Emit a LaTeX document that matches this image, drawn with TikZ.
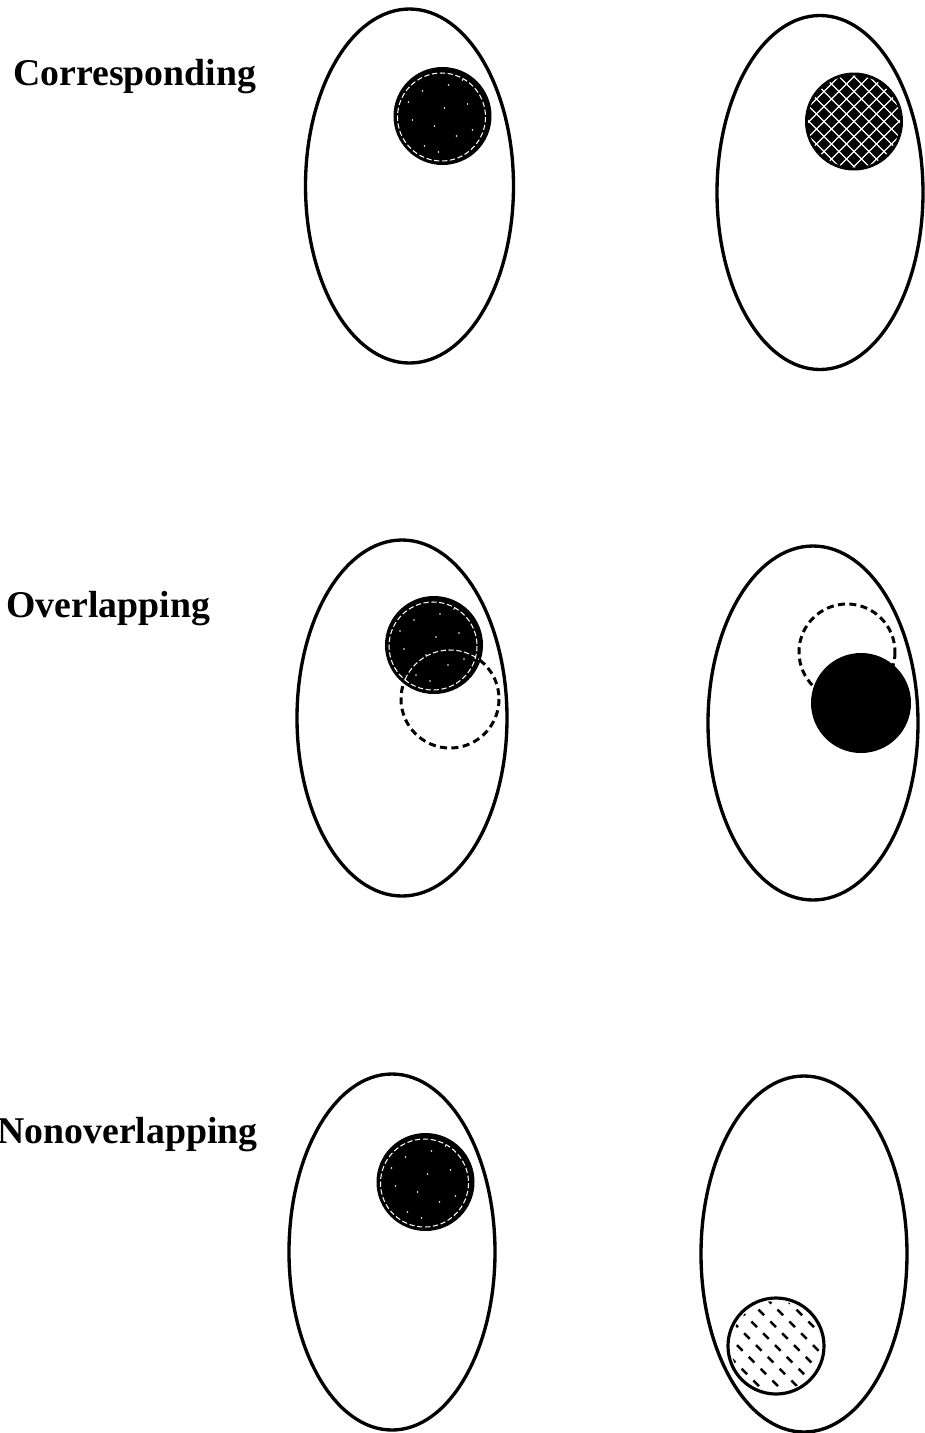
\documentclass[tikz,border=0pt]{standalone}
\usepackage{fontspec}
\setmainfont{Liberation Serif}
\tikzset{oval/.style={draw,line width=1.9pt},
 lbl/.style={anchor=base west,inner sep=0pt,font=\fontsize{21.5}{25}\selectfont\bfseries},
 ghost/.style={draw,line width=1.7pt,dash pattern=on 4pt off 2.5pt},
 speck/.style={draw=white,line width=0.6pt,dash pattern=on 3pt off 1.5pt},
 hatch/.style={draw=white,line width=0.7pt},
 ticks/.style={draw,line width=1.4pt,dash pattern=on 4.5pt off 5pt}}
\begin{document}
\begin{tikzpicture}[x=0.2mm,y=-0.2mm]
\useasboundingbox (0,0) rectangle (925,1433);
\node[lbl] (corr) at (13,85) {Corresponding};\node[lbl] (over) at (6,617) {Overlapping};\node[lbl] (nonov) at (-3,1143) {Nonoverlapping};
\draw[oval] (409.5,186) ellipse [x radius=104,y radius=177];\draw[oval] (820,192.5) ellipse [x radius=103,y radius=177];
\draw[oval] (402,718) ellipse [x radius=105,y radius=178];\draw[oval] (813,723) ellipse [x radius=105,y radius=177];
\draw[oval] (392,1252) ellipse [x radius=103,y radius=178];\draw[oval] (804,1254) ellipse [x radius=103,y radius=178];
% solid discs with stipple
\draw[ghost] (450,699) circle [radius=49];
\foreach \cx/\cy in {442.5/116,434/645,425.5/1182}{\fill (\cx,\cy) circle [radius=49];\draw[speck] (\cx-1,\cy+1) circle [radius=44];
 \foreach \dx/\dy in {-20/-25,6/-31,25/-12,-30/4,-8/10,14/20,30/14,-18/30,2/-8,-34/-14,20/-36,-4/36}{\fill[white] (\cx+\dx,\cy+\dy) circle [radius=0.9];}}
\begin{scope}\clip (434,645) circle [radius=47];\draw[speck] (450,699) circle [radius=49];\end{scope}
% crosshatched disc
\fill (854,121.5) circle [radius=49];
\begin{scope}\clip (854,121.5) circle [radius=46];
\foreach \k in {-8,...,8}{\draw[hatch] (854+15*\k-70,51.5) -- (854+15*\k+70,191.5);\draw[hatch] (854+15*\k+70,51.5) -- (854+15*\k-70,191.5);}
\end{scope}
% moved disc
\draw[ghost] (847,652) circle [radius=48];\fill (861,703) circle [radius=50];
% ticked disc
\draw[line width=1.8pt,fill=white] (776,1346) circle [radius=48];
\begin{scope}\clip (776,1346) circle [radius=45];
\foreach \k in {-6,...,6}{\draw[ticks] (776+19*\k-60,1286) -- (776+19*\k+60,1406);}
\end{scope}
\end{tikzpicture}
\end{document}
